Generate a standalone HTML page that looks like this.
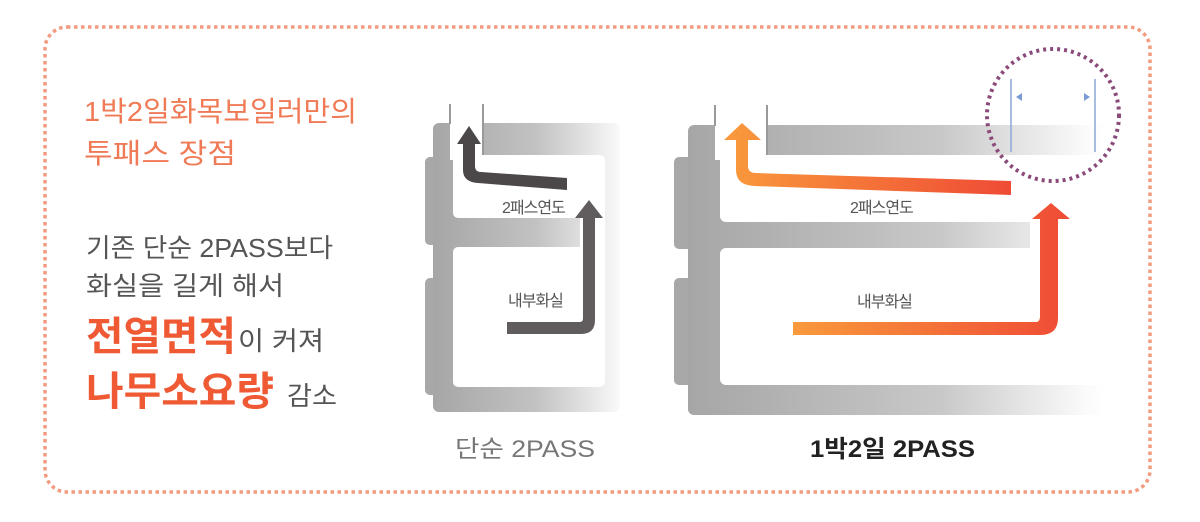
<!DOCTYPE html>
<html><head><meta charset="utf-8"><style>
body{margin:0;background:#fff;width:1200px;height:522px;overflow:hidden}
svg{display:block}
.k{font-family:"Liberation Sans","Noto Sans CJK KR",sans-serif}
</style></head><body>
<svg width="1200" height="522" viewBox="0 0 1200 522" xmlns="http://www.w3.org/2000/svg">
<defs>
<linearGradient id="gL" x1="433" x2="620" gradientUnits="userSpaceOnUse"><stop offset="0" stop-color="#a6a6a6"/><stop offset="0.55" stop-color="#c2c2c2"/><stop offset="0.85" stop-color="#e6e6e6"/><stop offset="1" stop-color="#fafafa"/></linearGradient>
<linearGradient id="gR" x1="0" x2="1"><stop offset="0" stop-color="#a6a6a6"/><stop offset="0.6" stop-color="#c8c8c8"/><stop offset="0.95" stop-color="#fbfbfb"/><stop offset="1" stop-color="#fff"/></linearGradient>
<linearGradient id="gO2" x1="793" x2="1070" gradientUnits="userSpaceOnUse"><stop offset="0" stop-color="#f99a3c"/><stop offset="1" stop-color="#ef4b35"/></linearGradient>
<linearGradient id="gO1" x1="724" x2="1011" gradientUnits="userSpaceOnUse"><stop offset="0" stop-color="#f99a3c"/><stop offset="1" stop-color="#ef4b35"/></linearGradient>
</defs>
<rect x="45" y="27" width="1105" height="465" rx="22" fill="none" stroke="#f39b7e" stroke-width="3.5" stroke-dasharray="3.5 3.5"/>

<!-- left boiler -->
<rect x="425" y="157" width="20" height="88" rx="5" fill="#a8a8a8"/>
<rect x="425" y="278" width="20" height="117" rx="5" fill="#a8a8a8"/>
<rect x="433" y="123" width="187" height="289" rx="6" fill="url(#gL)"/>
<rect x="450" y="100" width="33" height="60" fill="#fff"/>
<rect x="453" y="155" width="152" height="63" rx="5" fill="#fff"/>
<rect x="453" y="247" width="152" height="140" rx="5" fill="#fff"/>
<rect x="580" y="210" width="25" height="45" fill="#fff"/>
<path d="M433 218 L580 218 L580 247 L433 247Z" fill="url(#gL)"/>
<line x1="450" y1="104" x2="450" y2="124" stroke="#999" stroke-width="2"/>
<line x1="483" y1="104" x2="483" y2="155" stroke="#999" stroke-width="2"/>
<path d="M567 178 L567 190 L478 183 Q463 182 463 170 L463 144 L457 144 L469 126 L481 144 L475 144 L475 166 Q475 172 481 172Z" fill="#4c484a"/>
<path d="M507 322 L580 322 Q583 322 583 318 L583 218 L575 218 L589 200 L603 218 L595 218 L595 320 Q595 334 581 334 L507 334Z" fill="#615d5f"/>
<text x="502" y="213" class="k" font-size="16" fill="#555" letter-spacing="-1">2패스연도</text>
<text x="508" y="306" class="k" font-size="16" fill="#555" letter-spacing="-1">내부화실</text>

<!-- right boiler -->
<rect x="674" y="157" width="22" height="92" rx="5" fill="#a8a8a8"/>
<rect x="674" y="278" width="22" height="107" rx="5" fill="#a8a8a8"/>
<rect x="688" y="125" width="420" height="290" rx="6" fill="url(#gR)"/>
<rect x="715" y="100" width="52" height="60" fill="#fff"/>
<rect x="720" y="155" width="400" height="67" rx="6" fill="#fff"/>
<rect x="720" y="248" width="400" height="137" rx="6" fill="#fff"/>
<rect x="1030" y="215" width="90" height="40" fill="#fff"/>
<line x1="715" y1="105" x2="715" y2="126" stroke="#999" stroke-width="2"/>
<line x1="767" y1="105" x2="767" y2="155" stroke="#999" stroke-width="2"/>
<path d="M1011 181 L1011 195 L754 186 Q736 185 736 170 L736 140 L724 140 L742 123 L761 140 L748 140 L748 166 Q748 173 756 173Z" fill="url(#gO1)"/>
<path d="M793 322 L1036 322 Q1040 322 1040 316 L1040 219 L1032 219 L1051 203 L1070 219 L1058 219 L1058 318 Q1058 335 1040 335 L793 335Z" fill="url(#gO2)"/>
<text x="850" y="213" class="k" font-size="16" fill="#555" letter-spacing="-1">2패스연도</text>
<text x="857" y="307" class="k" font-size="16" fill="#555" letter-spacing="-1">내부화실</text>

<circle cx="1053" cy="115" r="66" fill="none" stroke="#8a4a7a" stroke-width="4" stroke-dasharray="3 4"/>
<line x1="1011" y1="79" x2="1011" y2="152" stroke="#8aa6d6" stroke-width="1.5"/>
<line x1="1095" y1="79" x2="1095" y2="152" stroke="#8aa6d6" stroke-width="1.5"/>
<path d="M1016 97 L1022 93 L1022 101Z" fill="#7a9ad6"/>
<path d="M1090 97 L1084 93 L1084 101Z" fill="#7a9ad6"/>

<!-- texts -->
<g class="k">
<text x="84" y="121" font-size="28" fill="#f07a55" textLength="273" lengthAdjust="spacingAndGlyphs">1박2일화목보일러만의</text>
<text x="84" y="163" font-size="28" fill="#f07a55" textLength="152" lengthAdjust="spacingAndGlyphs">투패스 장점</text>
<text x="86" y="257" font-size="26" fill="#555" textLength="247" lengthAdjust="spacingAndGlyphs">기존 단순 2PASS보다</text>
<text x="86" y="295" font-size="26" fill="#555" textLength="198" lengthAdjust="spacingAndGlyphs">화실을 길게 해서</text>
<text x="86" y="350" font-size="40" font-weight="bold" fill="#ef5a34" textLength="150" lengthAdjust="spacingAndGlyphs">전열면적</text>
<text x="238" y="350" font-size="26" fill="#555" textLength="86" lengthAdjust="spacingAndGlyphs">이 커져</text>
<text x="86" y="405" font-size="40" font-weight="bold" fill="#ef5a34" textLength="188" lengthAdjust="spacingAndGlyphs">나무소요량</text>
<text x="287" y="405" font-size="26" fill="#555" textLength="50" lengthAdjust="spacingAndGlyphs">감소</text>
<text x="455" y="457" font-size="24" fill="#777" textLength="140" lengthAdjust="spacingAndGlyphs">단순 2PASS</text>
<text x="810" y="457" font-size="24" font-weight="bold" fill="#222" textLength="165" lengthAdjust="spacingAndGlyphs">1박2일 2PASS</text>
</g>
</svg>
</body></html>
